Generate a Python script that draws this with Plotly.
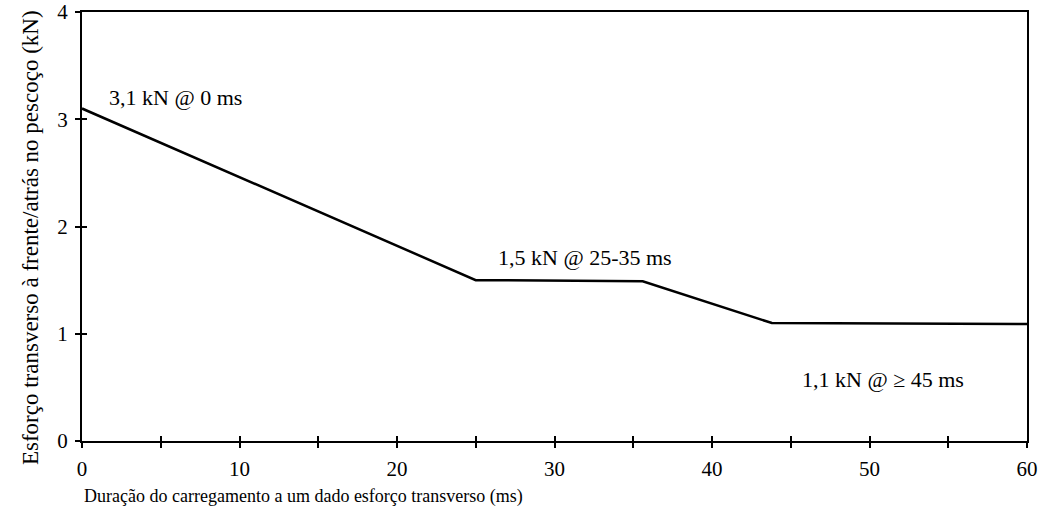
import plotly.graph_objects as go

# Data
duration_ms = [0, 25, 35.6, 43.8, 60]
force_kN = [3.1, 1.5, 1.49, 1.1, 1.09]

x_tick_vals = [0, 10, 20, 30, 40, 50, 60]
y_tick_vals = [0, 1, 2, 3, 4]

labels_text = ["3,1 kN @ 0 ms", "1,5 kN @ 25-35 ms", "1,1 kN @ ≥ 45 ms"]
labels_x = [1.6, 26.3, 45.6]
labels_y = [3.2, 1.71, 0.57]

x_title = "Duração do carregamento a um dado esforço transverso (ms)"
y_title = "Esforço transverso à frente/atrás no pescoço (kN)"

FONT = "Liberation Serif"

fig = go.Figure()
fig.add_trace(go.Scatter(x=duration_ms, y=force_kN, mode="lines",
                         line=dict(color="black", width=2.5),
                         showlegend=False, hoverinfo="skip"))
# invisible trace for secondary axes (inside ticks)
fig.add_trace(go.Scatter(x=[0], y=[0], xaxis="x2", yaxis="y2", mode="markers",
                         marker=dict(opacity=0), showlegend=False, hoverinfo="skip"))

for t, xx, yy in zip(labels_text, labels_x, labels_y):
    fig.add_annotation(x=xx, y=yy, text=t, showarrow=False, xanchor="left",
                       yanchor="middle", font=dict(family=FONT, size=22, color="black"))

fig.add_annotation(xref="paper", yref="paper", x=0, y=-0.1, text=x_title,
                   showarrow=False, xanchor="left", yanchor="top",
                   font=dict(family=FONT, size=18, color="black"))

fig.add_annotation(xref="paper", yref="paper", x=-0.055, y=0.473, text=y_title,
                   showarrow=False, xanchor="center", yanchor="middle", textangle=-90,
                   font=dict(family=FONT, size=23, color="black"))

axis_common = dict(showgrid=False, zeroline=False, showline=True, linecolor="black",
                   linewidth=2, mirror=True, ticks="outside", ticklen=5,
                   tickwidth=2, tickcolor="black", automargin=False,
                   ticklabeloverflow="allow",
                   tickfont=dict(family=FONT, size=21, color="black"))

fig.update_layout(
    width=1039, height=520,
    margin=dict(l=82, r=12, t=12, b=79),
    paper_bgcolor="white", plot_bgcolor="white",
    xaxis=dict(range=[0, 60], tickvals=x_tick_vals, ticklabelstandoff=3,
               minor=dict(dtick=5, ticks="outside", ticklen=5, tickwidth=2, tickcolor="black"),
               **axis_common),
    yaxis=dict(range=[0, 4], tickvals=y_tick_vals, ticklabelstandoff=3,
               **axis_common),
    xaxis2=dict(range=[0, 60], overlaying="x", dtick=5, tick0=0, ticks="inside", ticklen=5,
                tickwidth=2, tickcolor="black", showticklabels=False, showgrid=False,
                zeroline=False, showline=False, automargin=False),
    yaxis2=dict(range=[0, 4], overlaying="y", dtick=1, tick0=0, ticks="inside", ticklen=5,
                tickwidth=2, tickcolor="black", showticklabels=False, showgrid=False,
                zeroline=False, showline=False, automargin=False),
)

# remove the default 8px page margin so the figure fills the window exactly
fig.write_html("out.html", config={"displayModeBar": False},
               post_script="document.body.style.margin='0';")
